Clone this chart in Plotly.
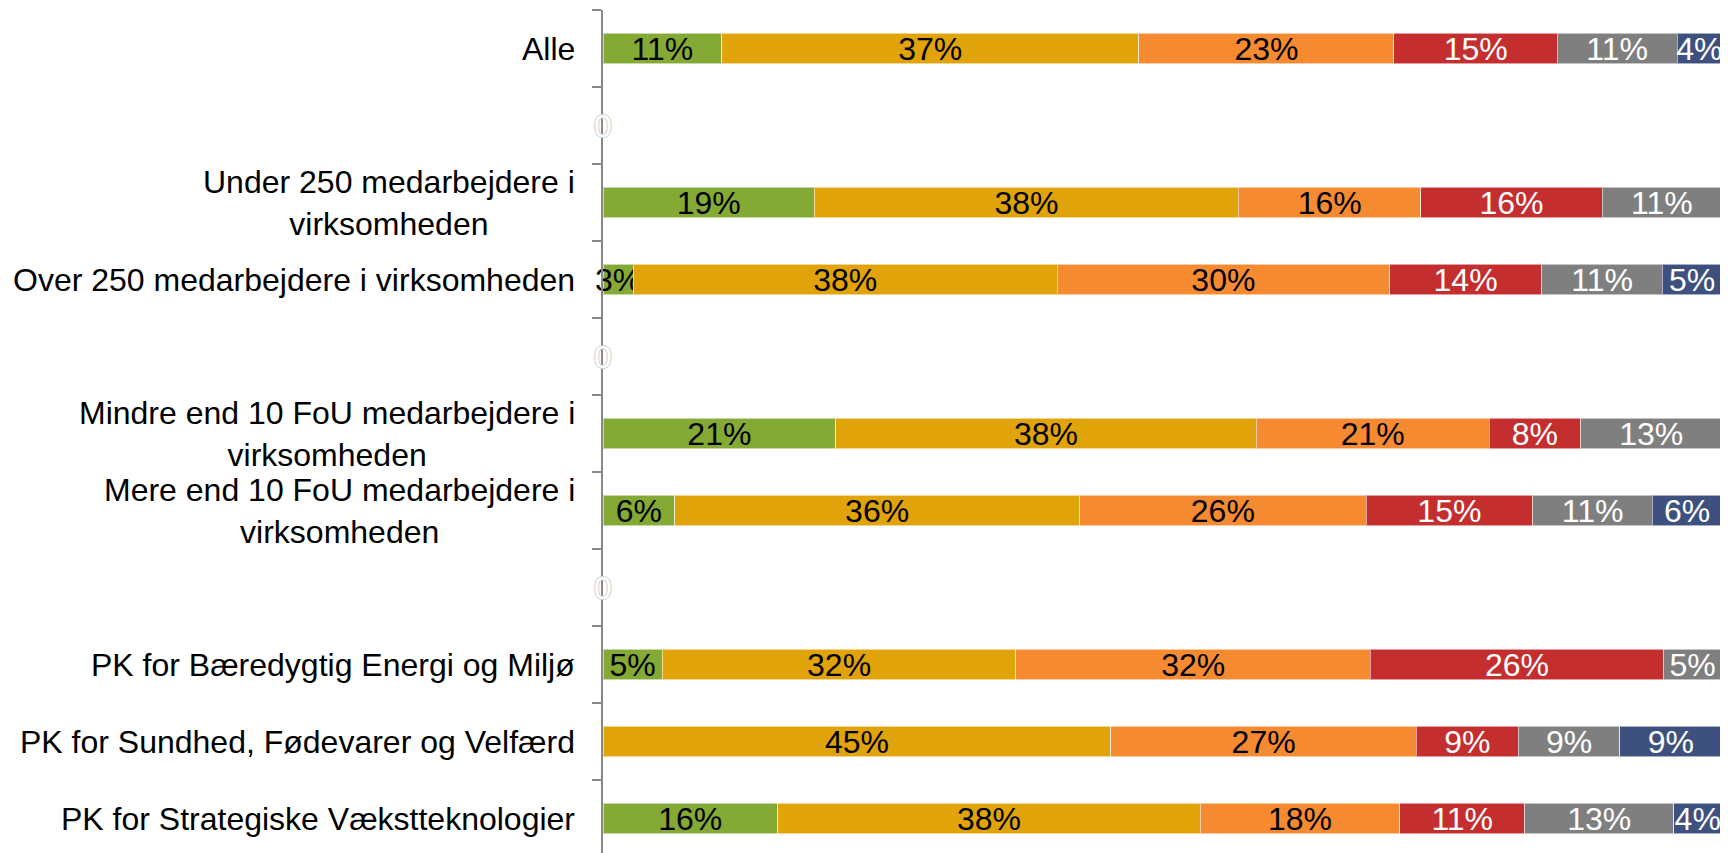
import plotly.graph_objects as go

# Categories (None = empty spacer row)
categories = [
    "Alle",
    None,
    "Under 250 medarbejdere i<br>virksomheden",
    "Over 250 medarbejdere i virksomheden",
    None,
    "Mindre end 10 FoU medarbejdere i<br>virksomheden",
    "Mere end 10 FoU medarbejdere i<br>virksomheden",
    None,
    "PK for Bæredygtig Energi og Miljø",
    "PK for Sundhed, Fødevarer og Velfærd",
    "PK for Strategiske Vækstteknologier",
]

series_names = ["Kategori 1", "Kategori 2", "Kategori 3", "Kategori 4", "Kategori 5", "Kategori 6"]

s1 = [10.6, None, 18.9, 2.7, None, 20.8, 6.4, None, 5.3, 0.0, 15.6]
s2 = [37.3, None, 37.9, 37.9, None, 37.6, 36.2, None, 31.6, 45.4, 37.8]
s3 = [22.8, None, 16.3, 29.7, None, 20.8, 25.6, None, 31.7, 27.3, 17.8]
s4 = [14.6, None, 16.2, 13.6, None, 8.2, 14.9, None, 26.2, 9.1, 11.2]
s5 = [10.7, None, 10.7, 10.8, None, 12.6, 10.7, None, 5.2, 9.1, 13.3]
s6 = [4.0, None, 0.0, 5.3, None, 0.0, 6.2, None, 0.0, 9.1, 4.3]

series_values = [s1, s2, s3, s4, s5, s6]
colors = ["#84AA35", "#E1A30A", "#F68A31", "#C42E2F", "#7F7F7F", "#3E517E"]
text_colors = ["black", "black", "black", "white", "white", "white"]

FONT = "Liberation Sans, Arial, Helvetica, sans-serif"

rows = list(range(len(categories)))

fig = go.Figure()
for name, vals, col, tcol in zip(series_names, series_values, colors, text_colors):
    ys = [r for r, v in zip(rows, vals) if v is not None]
    xs = [v for v in vals if v is not None]
    txt = [f"{round(v)}%" if v > 0 else "" for v in xs]
    fig.add_trace(go.Bar(
        x=xs, y=ys, name=name, orientation="h",
        marker=dict(color=col, line=dict(color="rgba(255,255,255,0.55)", width=1)),
        text=txt, textposition="inside", insidetextanchor="middle", textangle=0,
        insidetextfont=dict(family=FONT, size=32, color=tcol),
        width=0.40, cliponaxis=False,
    ))

annotations = []
for r, cat in enumerate(categories):
    if cat is None:
        annotations.append(dict(
            x=0, y=r, xref="x", yref="y", text="0", showarrow=False,
            xanchor="center", yanchor="middle",
            font=dict(family=FONT, size=32, color="white",
                      shadow="1px 0 0 #cfcfcf, -1px 0 0 #cfcfcf, 0 1px 0 #cfcfcf, 0 -1px 0 #cfcfcf"),
        ))
    else:
        annotations.append(dict(
            x=0, y=r, xref="paper", yref="y", text=cat, showarrow=False,
            xanchor="right", yanchor="middle", align="center", xshift=-26,
            font=dict(family=FONT, size=32, color="black"),
        ))

fig.update_layout(
    barmode="stack",
    width=1720, height=853,
    margin=dict(l=595, r=6, t=2, b=4),
    plot_bgcolor="white", paper_bgcolor="white",
    showlegend=False,
    uniformtext=dict(mode="show", minsize=32),
    annotations=annotations,
    xaxis=dict(range=[0, 100.02], visible=False),
    yaxis=dict(
        range=[len(categories) - 0.5, -0.5],
        tickvals=[r - 0.5 for r in range(len(categories) + 1)],
        showticklabels=False, ticks="outside", ticklen=9, tickwidth=2, tickcolor="#888888",
        showline=True, linecolor="#888888", linewidth=2,
        showgrid=False, zeroline=False,
    ),
)

fig.write_html("out.html")
